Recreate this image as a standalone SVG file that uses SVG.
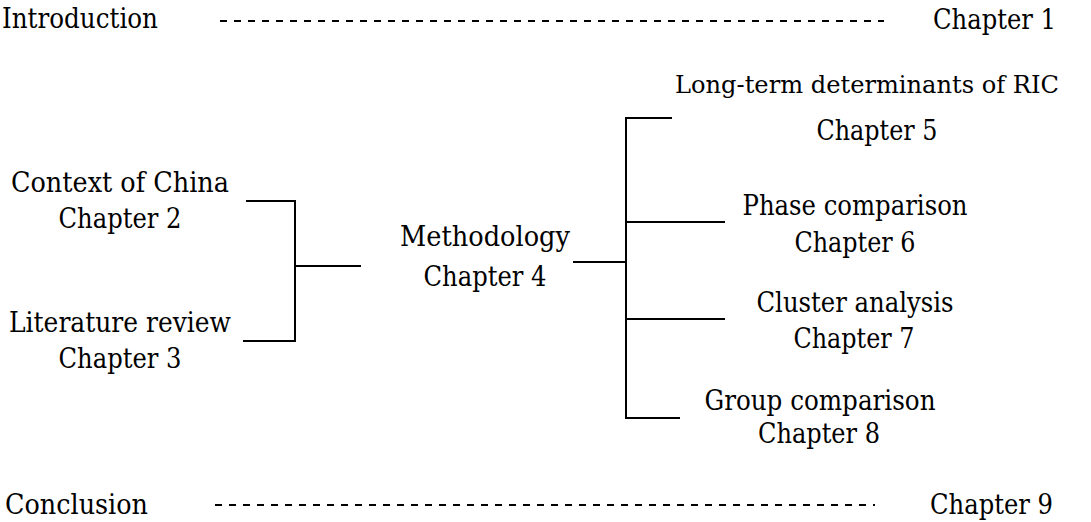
<svg xmlns="http://www.w3.org/2000/svg" width="1091" height="522" viewBox="0 0 1091 522">
<style>
text{font-family:"DejaVu Serif",serif;font-size:27.5px;fill:#000}
.m{text-anchor:middle}
.ln{stroke:#000;stroke-width:2;fill:none}
.dash{stroke:#000;stroke-width:2;stroke-dasharray:7 7;fill:none}
</style>
<rect width="1091" height="522" fill="#fff"/>
<g id="connectors">
<line class="dash" x1="220" y1="21" x2="884" y2="21"/>
<line class="dash" x1="215" y1="505" x2="875" y2="505"/>
<polyline class="ln" points="246,201 295,201 295,341 243,341"/>
<line class="ln" x1="295" y1="266" x2="361" y2="266"/>
<line class="ln" x1="573" y1="262" x2="626" y2="262"/>
<polyline class="ln" points="672,118 626,118 626,418 680,418"/>
<line class="ln" x1="626" y1="222" x2="725" y2="222"/>
<line class="ln" x1="626" y1="319" x2="725" y2="319"/>
</g>
<g id="introduction"><text x="2" y="28" textLength="156" lengthAdjust="spacingAndGlyphs">Introduction</text><text x="933" y="29" textLength="123" lengthAdjust="spacingAndGlyphs">Chapter 1</text></g>
<g id="context"><text class="m" x="120" y="192" textLength="218" lengthAdjust="spacingAndGlyphs">Context of China</text><text class="m" x="120" y="228" textLength="123" lengthAdjust="spacingAndGlyphs">Chapter 2</text></g>
<g id="literature"><text class="m" x="120" y="332" textLength="222" lengthAdjust="spacingAndGlyphs">Literature review</text><text class="m" x="120" y="368" textLength="123" lengthAdjust="spacingAndGlyphs">Chapter 3</text></g>
<g id="methodology"><text class="m" x="485" y="246" textLength="170" lengthAdjust="spacingAndGlyphs">Methodology</text><text class="m" x="485" y="286" textLength="123" lengthAdjust="spacingAndGlyphs">Chapter 4</text></g>
<g id="longterm"><text class="m" x="867" y="93" font-size="25" style="font-size:25px" textLength="384" lengthAdjust="spacingAndGlyphs">Long-term determinants of RIC</text><text class="m" x="877" y="140" textLength="121" lengthAdjust="spacingAndGlyphs">Chapter 5</text></g>
<g id="phase"><text class="m" x="855" y="215" textLength="225" lengthAdjust="spacingAndGlyphs">Phase comparison</text><text class="m" x="855" y="252" textLength="121" lengthAdjust="spacingAndGlyphs">Chapter 6</text></g>
<g id="cluster"><text class="m" x="855" y="312" textLength="197" lengthAdjust="spacingAndGlyphs">Cluster analysis</text><text class="m" x="854" y="348" textLength="121" lengthAdjust="spacingAndGlyphs">Chapter 7</text></g>
<g id="group"><text class="m" x="820" y="410" textLength="231" lengthAdjust="spacingAndGlyphs">Group comparison</text><text class="m" x="819" y="443" textLength="122" lengthAdjust="spacingAndGlyphs">Chapter 8</text></g>
<g id="conclusion"><text x="5" y="514" textLength="143" lengthAdjust="spacingAndGlyphs">Conclusion</text><text x="930" y="514" textLength="123" lengthAdjust="spacingAndGlyphs">Chapter 9</text></g>
</svg>
